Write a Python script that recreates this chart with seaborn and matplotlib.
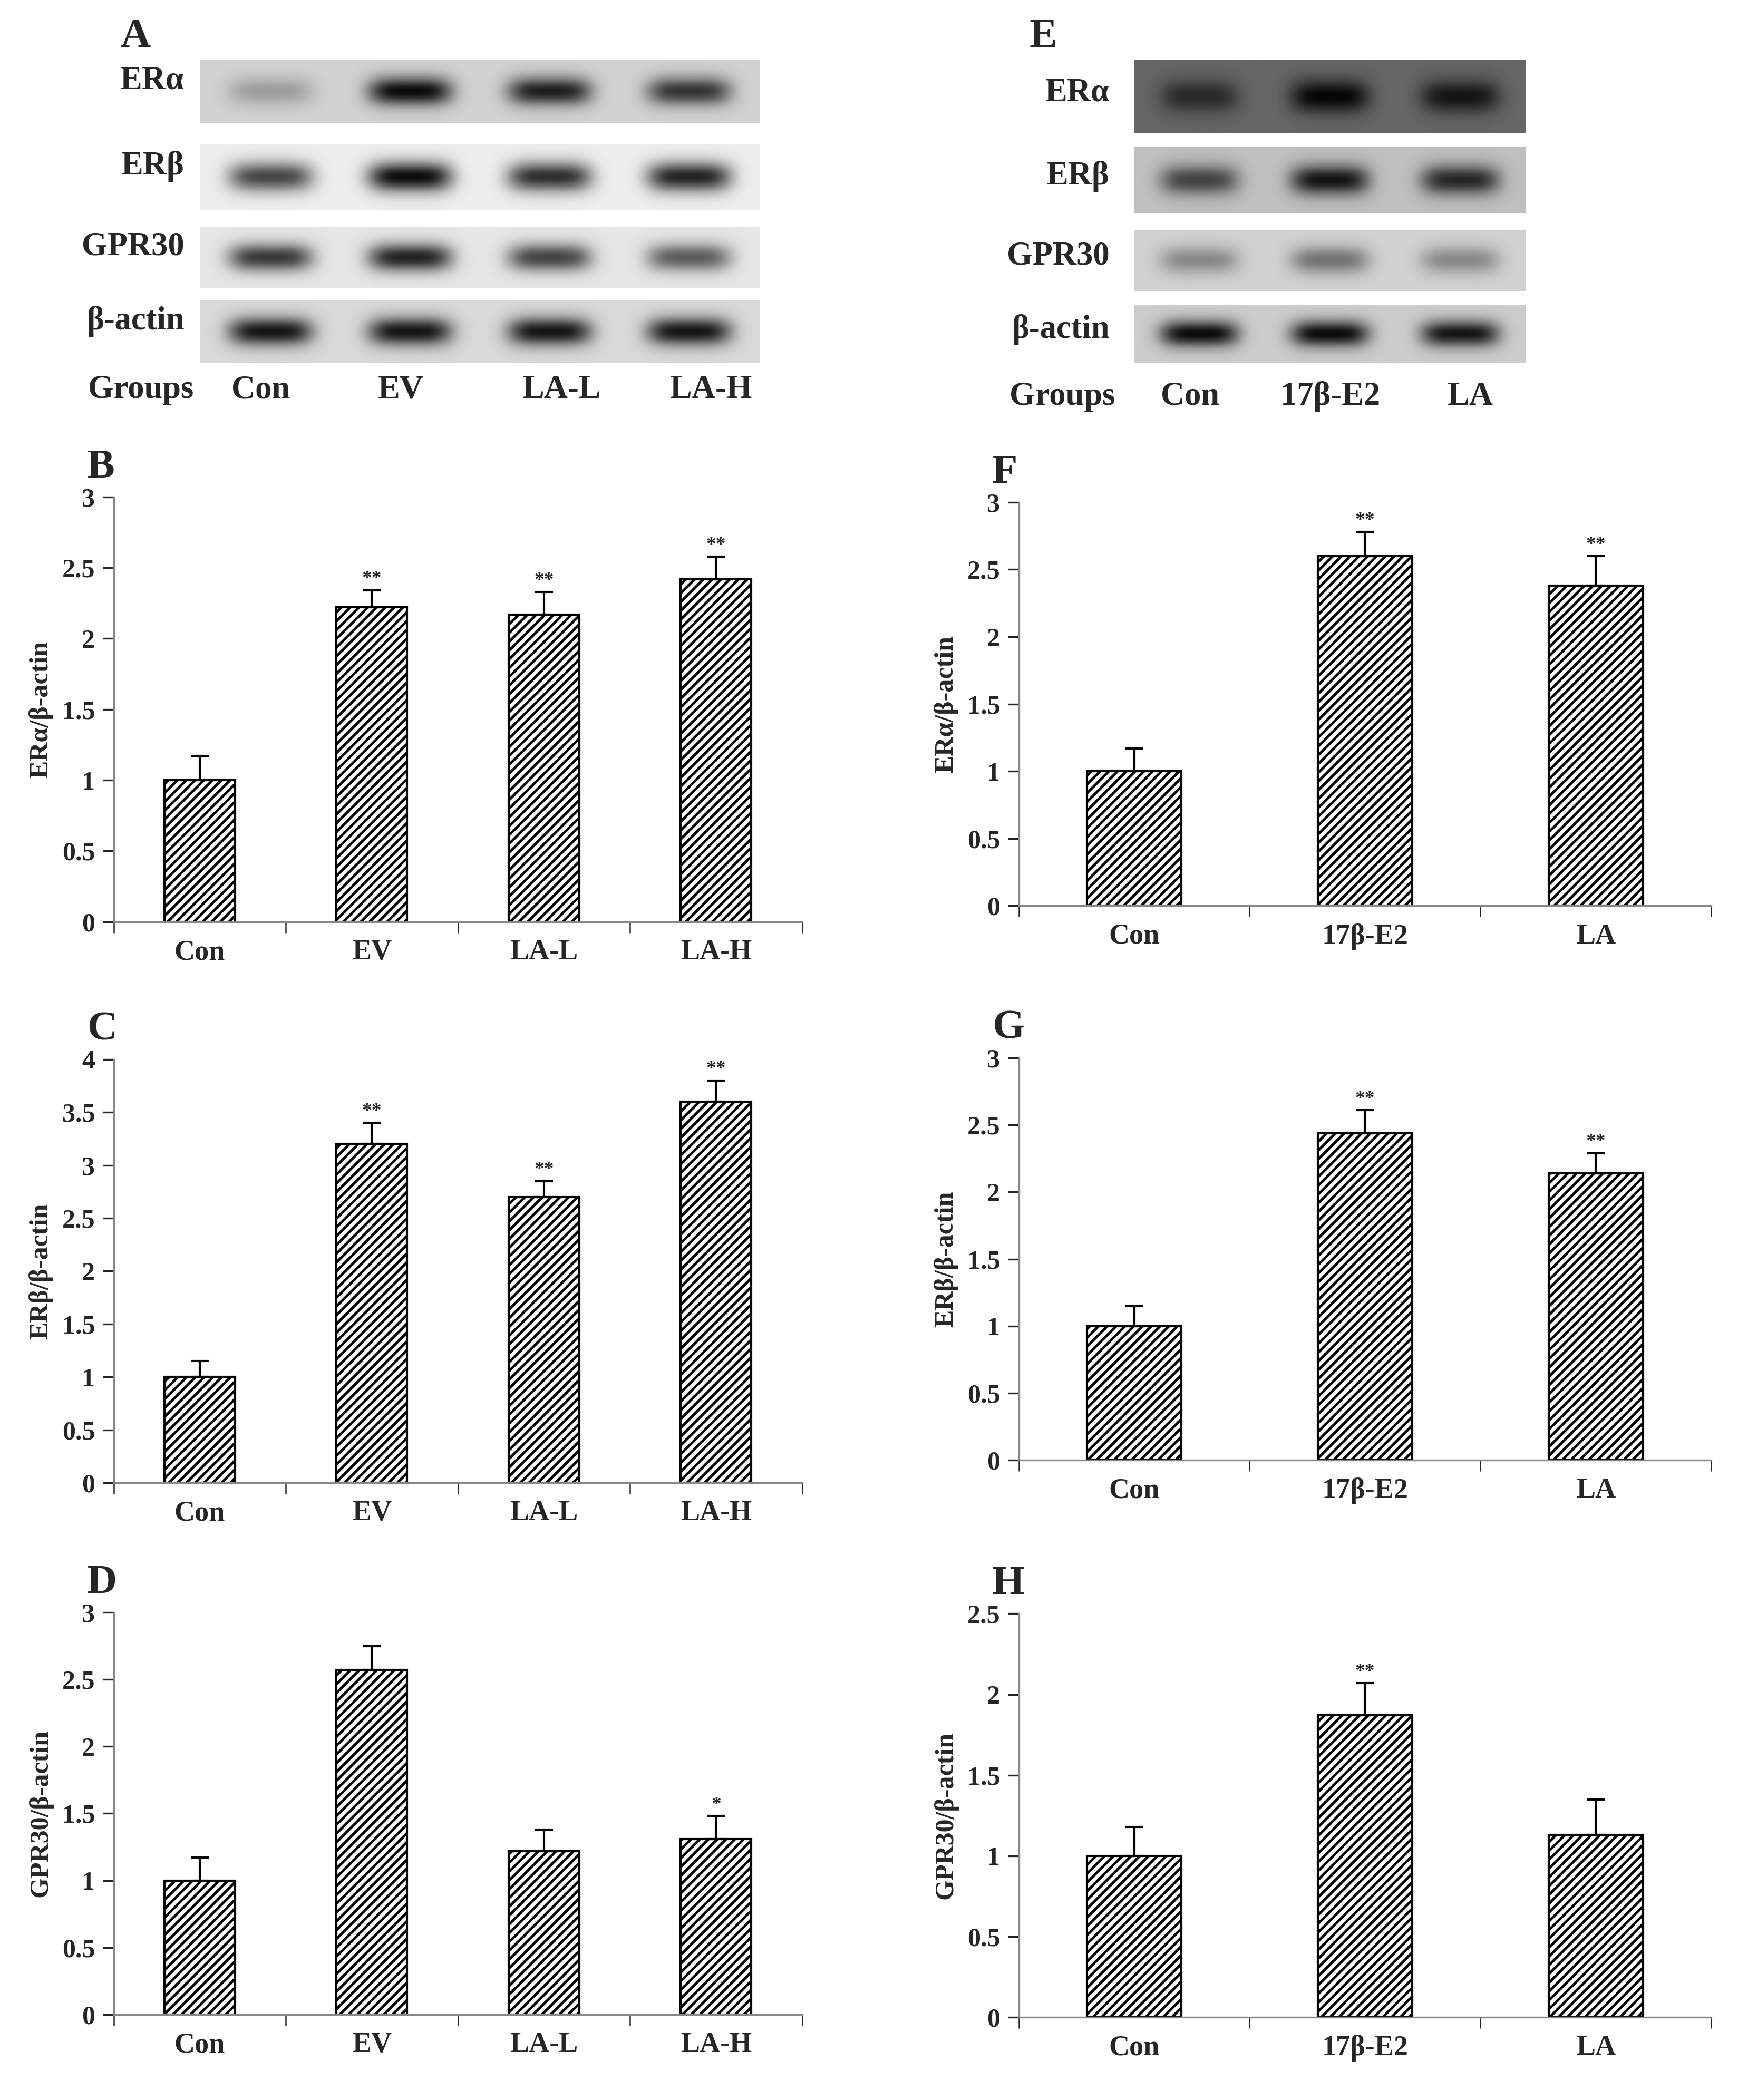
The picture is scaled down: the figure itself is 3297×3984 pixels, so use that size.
import matplotlib
matplotlib.use("Agg")
import matplotlib.pyplot as plt
import numpy as np
import pandas as pd
import seaborn as sns

sns.set_style("white")
plt.rcParams['font.family'] = ['Liberation Serif', 'DejaVu Serif']
plt.rcParams['font.weight'] = 'bold'
plt.rcParams['axes.labelweight'] = 'bold'
plt.rcParams['hatch.linewidth'] = 1.2

# ---- data ----
groups_left = ['Con', 'EV', 'LA-L', 'LA-H']
groups_right = ['Con', '17β-E2', 'LA']

era_left = [1.0, 2.22, 2.17, 2.42]
era_left_err = [0.17, 0.12, 0.16, 0.16]
era_left_sig = ['', '**', '**', '**']

erb_left = [1.0, 3.2, 2.7, 3.6]
erb_left_err = [0.15, 0.2, 0.15, 0.2]
erb_left_sig = ['', '**', '**', '**']

gpr_left = [1.0, 2.57, 1.22, 1.31]
gpr_left_err = [0.17, 0.18, 0.16, 0.17]
gpr_left_sig = ['', '', '', '*']

era_right = [1.0, 2.6, 2.38]
era_right_err = [0.17, 0.18, 0.22]
era_right_sig = ['', '**', '**']

erb_right = [1.0, 2.44, 2.14]
erb_right_err = [0.15, 0.17, 0.15]
erb_right_sig = ['', '**', '**']

gpr_right = [1.0, 1.87, 1.13]
gpr_right_err = [0.18, 0.2, 0.22]
gpr_right_sig = ['', '**', '']

# blot band intensities (0-1) per row, per lane
blot_rows = ['ERα', 'ERβ', 'GPR30', 'β-actin']
blot_left = [[0.25, 0.95, 0.85, 0.75],
             [0.7, 0.95, 0.8, 0.85],
             [0.75, 0.85, 0.7, 0.6],
             [0.9, 0.9, 0.9, 0.9]]
blot_left_bg = [0.82, 0.93, 0.9, 0.85]
blot_right = [[0.6, 0.95, 0.8],
              [0.65, 0.9, 0.8],
              [0.35, 0.45, 0.35],
              [0.95, 0.95, 0.9]]
blot_right_bg = [0.4, 0.75, 0.82, 0.8]

fig = plt.figure(figsize=(10.99, 13.28), dpi=300)
W, H = 1300.0, 1572.0


def fax(x0, x1, y0, y1):
    return fig.add_axes([x0 / W, 1 - y1 / H, (x1 - x0) / W, (y1 - y0) / H])


def blot(x0, x1, ys, intens, bg, nlanes):
    for (y0, y1), row, b in zip(ys, intens, bg):
        ax = fax(x0, x1, y0, y1)
        xx = np.linspace(-0.5, nlanes - 0.5, 400)
        yy = np.linspace(-1, 1, 60)
        X, Y = np.meshgrid(xx, yy)
        img = np.zeros_like(X)
        for i, v in enumerate(row):
            img = np.maximum(img, v * np.exp(-((X - i) / 0.3) ** 4 - (Y / 0.45) ** 2))
        img = b * (1 - img)
        ax.imshow(img, cmap='gray', vmin=0, vmax=1, aspect='auto')
        ax.set_axis_off()


def bars(x0, x1, y0, y1, cats, vals, errs, sig, ymax, ylabel, letter):
    ax = fax(x0, x1, y0, y1)
    df = pd.DataFrame({'group': cats, 'value': vals})
    sns.barplot(data=df, x='group', y='value', ax=ax, color='white', edgecolor='black',
                hatch='//////', width=0.41, errorbar=None, linewidth=1.0)
    xs = np.arange(len(cats))
    ax.errorbar(xs, vals, yerr=[np.zeros(len(errs)), errs], fmt='none', ecolor='black',
                elinewidth=1.0, capsize=4, capthick=1.0)
    for x, v, e, s in zip(xs, vals, errs, sig):
        if s:
            ax.text(x, v + e + ymax * 0.005, s, ha='center', va='bottom', fontsize=9)
    ax.set_ylim(0, ymax)
    ax.set_xlim(-0.5, len(cats) - 0.5)
    ax.set_yticks(np.arange(0, ymax + 0.01, 0.5))
    ax.set_yticklabels(['%g' % t for t in np.arange(0, ymax + 0.01, 0.5)], fontsize=12)
    ax.set_xticks(xs)
    ax.set_xticklabels(cats, fontsize=13)
    ax.set_xticks(np.arange(-0.5, len(cats), 1), minor=True)
    ax.tick_params(axis='x', which='major', length=0, pad=8)
    ax.tick_params(axis='x', which='minor', length=5, direction='out', bottom=True)
    ax.tick_params(axis='y', length=5, direction='out', left=True)
    ax.set_xlabel('')
    ax.set_ylabel(ylabel, fontsize=12, fontweight='bold')
    for s in ['top', 'right']:
        ax.spines[s].set_visible(False)
    for s in ['left', 'bottom']:
        ax.spines[s].set_color('#888888')
    fig.text((x0 - 20) / W, 1 - (y0 - 22) / H, letter, fontsize=19, va='center')
    return ax


# blots
ys_left = [(45, 92), (108, 157), (170, 216), (225, 272)]
blot(150, 568, ys_left, blot_left, blot_left_bg, 4)
ys_right = [(45, 100), (110, 160), (172, 218), (228, 272)]
blot(848, 1141, ys_right, blot_right, blot_right_bg, 3)
for (y0, y1), name in zip(ys_left, blot_rows):
    fig.text(138 / W, 1 - ((y0 + y1) / 2 - 8) / H, name, ha='right', va='center', fontsize=15)
for (y0, y1), name in zip(ys_right, blot_rows):
    fig.text(830 / W, 1 - ((y0 + y1) / 2 - 3) / H, name, ha='right', va='center', fontsize=15)
fig.text(66 / W, 1 - 292 / H, 'Groups', fontsize=15, va='center')
for x, g in zip([195, 300, 420, 532], groups_left):
    fig.text(x / W, 1 - 292 / H, g, fontsize=15, va='center', ha='center')
fig.text(755 / W, 1 - 297 / H, 'Groups', fontsize=15, va='center')
for x, g in zip([890, 995, 1100], ['Con', '17β-E2', 'LA']):
    fig.text(x / W, 1 - 297 / H, g, fontsize=15, va='center', ha='center')
fig.text(90 / W, 1 - 28 / H, 'A', fontsize=19, va='center')
fig.text(770 / W, 1 - 28 / H, 'E', fontsize=19, va='center')

bars(85, 600, 372, 690, groups_left, era_left, era_left_err, era_left_sig, 3, 'ERα/β-actin', 'B')
bars(85, 600, 793, 1110, groups_left, erb_left, erb_left_err, erb_left_sig, 4, 'ERβ/β-actin', 'C')
bars(85, 600, 1207, 1508, groups_left, gpr_left, gpr_left_err, gpr_left_sig, 3, 'GPR30/β-actin', 'D')
bars(762, 1280, 376, 678, groups_right, era_right, era_right_err, era_right_sig, 3, 'ERα/β-actin', 'F')
bars(762, 1280, 792, 1093, groups_right, erb_right, erb_right_err, erb_right_sig, 3, 'ERβ/β-actin', 'G')
bars(762, 1280, 1208, 1510, groups_right, gpr_right, gpr_right_err, gpr_right_sig, 2.5, 'GPR30/β-actin', 'H')

fig.savefig('out.png', dpi=300, facecolor='white')
